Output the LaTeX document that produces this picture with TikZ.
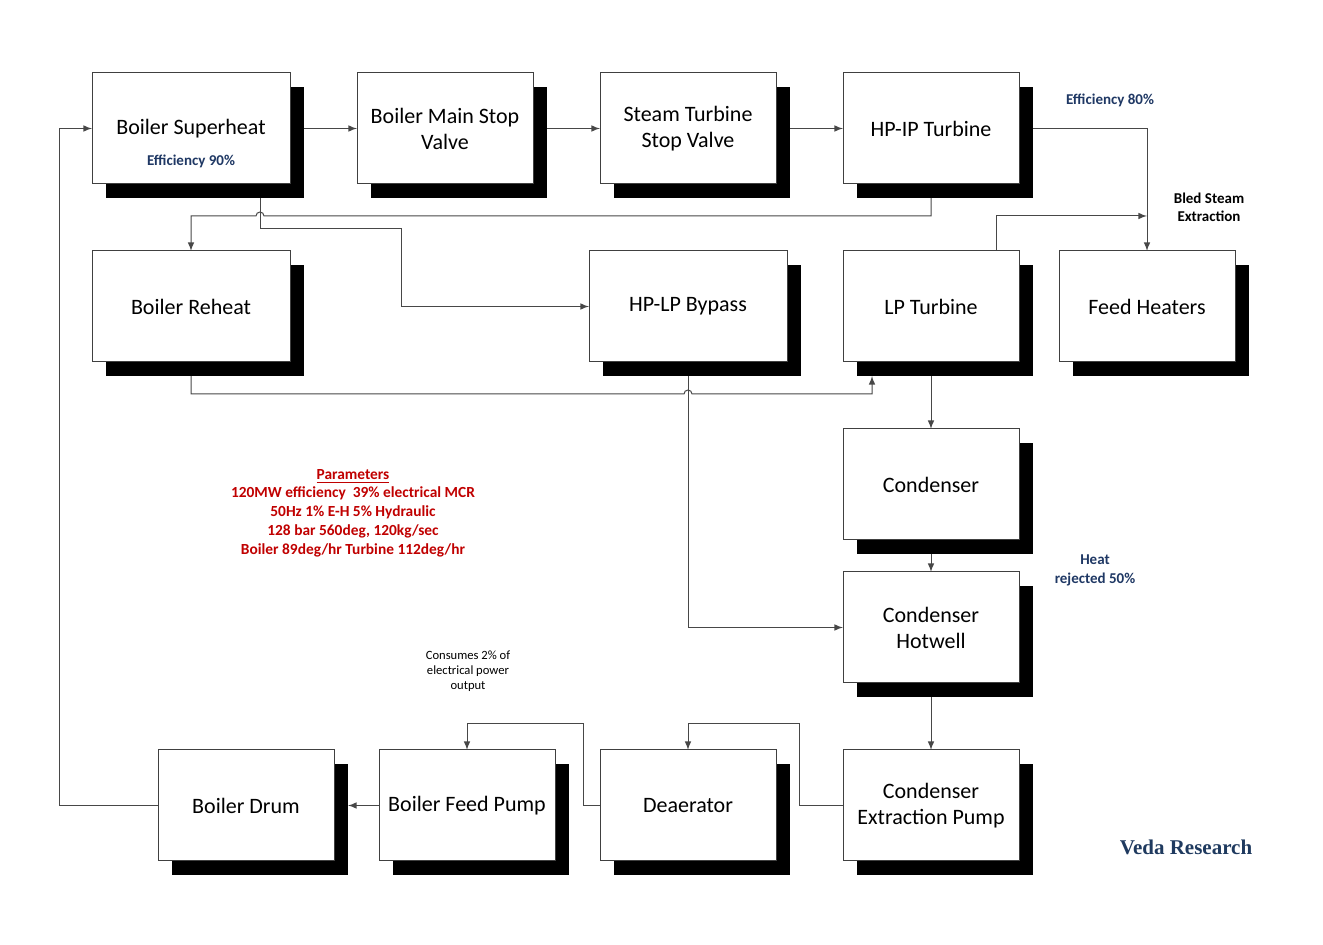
\documentclass[tikz,border=0pt]{standalone}
\usepackage{fontspec}
\setmainfont{Carlito}
\newfontfamily\vedafont{Liberation Serif}
\usepackage{tikz}
\usetikzlibrary{arrows}
\usetikzlibrary{calc}
\usetikzlibrary{shadows}
\usetikzlibrary{positioning}
\definecolor{effblue}{HTML}{1F3864}
\definecolor{paramred}{HTML}{C00000}
\definecolor{vedablue}{HTML}{1F3A5F}
\pgfdeclarelayer{background}
\pgfsetlayers{background,main}

\begin{document}
\begin{tikzpicture}[x=0.5pt,y=-0.5pt,node distance=33.5pt,
    plant/.style={draw=black!75, fill=white, line width=0.5pt, outer sep=0pt, minimum width=88pt, minimum height=55.5pt,
        align=center, font=\fontsize{11}{13}\selectfont,
        drop shadow={shadow xshift=7pt, shadow yshift=-7pt, fill=black, opacity=1}},
    wide/.style={plant, minimum width=99pt},
    flow/.style={draw=black!72, line width=0.5pt, -latex},
    eff/.style={text=effblue, align=center, font=\fontsize{7.5}{9.5}\selectfont\bfseries},
    note/.style={align=center, font=\fontsize{7.5}{9}\selectfont\bfseries},
    param/.style={text=paramred, align=center, font=\fontsize{7.7}{9.35}\selectfont\bfseries}]
        \useasboundingbox (0,0) rectangle (1323,945);
        \node[wide] (bs) at (191,128.5) {Boiler Superheat};
        \node[plant, right=of bs] (msv) {Boiler Main Stop\\Valve};
        \node[plant, right=of msv] (stv) {Steam Turbine\\Stop Valve};
        \node[plant, right=of stv] (hpip) {HP-IP Turbine};
        
        \node[wide, below=of bs] (br) {Boiler Reheat};
        \node[wide, below=of stv] (hplp) {HP-LP Bypass};
        \node[plant, below=of hpip] (lpt) {LP Turbine};
        \node[plant, right=20pt of lpt] (fh) {Feed Heaters};
        
        \node[plant, below=of lpt] (cond) {Condenser};
        \node[plant, below=16pt of cond] (hw) {Condenser\\Hotwell};
        \node[plant, below=of hw] (cep) {Condenser\\Extraction Pump};
        \node[plant, left=of cep] (dea) {Deaerator};
        \node[plant, left=22.5pt of dea] (bfp) {Boiler Feed Pump};
        \node[plant, left=22.5pt of bfp] (drum) {Boiler Drum};
        
        % labels
        \node[eff] (eff90) at ([yshift=-16.5pt]bs.center) {Efficiency 90\%};
        \node[eff] (eff80) at (1110,100) {Efficiency 80\%};
        \node[note] (bledtxt) at (1209,207) {Bled Steam\\Extraction};
        \node[eff] (heat) at (1095,570) {Heat\\rejected 50\%};
        \node[align=center, font=\fontsize{6.3}{7.5}\selectfont] (cons) at (468,671) {Consumes 2\% of\\electrical power\\output};
        \node[param] (par) at (353,513) {\underline{Parameters}\\120MW efficiency~~39\% electrical MCR\\50Hz 1\% E-H 5\% Hydraulic\\128 bar 560deg, 120kg/sec\\Boiler 89deg/hr Turbine 112deg/hr};
        \node[text=vedablue, font=\vedafont\fontsize{10.5}{12}\selectfont\bfseries] (veda) at (1186,847) {Veda Research};
        \coordinate (bled) at (1147,216);
        
        \begin{pgfonlayer}{background}
        \draw[flow] (bs) -- (msv);
        \draw[flow] (msv) -- (stv);
        \draw[flow] (stv) -- (hpip);
        \draw[flow] (hpip.east) -| (fh.north);
        \draw[flow] (hpip.south) |- (264,216) arc (0:-180:4) -| (br.north);
        \draw[flow] (260,0 |- bs.south) |- (401,229) |- (hplp.west);
        \draw[flow] (br.south) |- (684,394) arc (180:360:4) -| ([xshift=14.5pt,yshift=-7pt]lpt.south west);
        \draw[flow] ([xshift=32.5pt]lpt.north) |- (bled);
        \draw[flow] (lpt) -- (cond);
        \draw[flow] (cond) -- (hw);
        \draw[flow] (hw) -- (cep);
        \draw[flow] (hplp.south) |- (hw.west);
        % feed water back to the boiler
        \draw[flow] (cep.west) -| (799,724) -| (dea.north);
        \draw[flow] (dea.west) -| (583,724) -| (bfp.north);
        \draw[flow] (bfp.west) -- ([xshift=7pt]drum.east);
        \draw[flow] (drum.west) -- ++(-99,0) |- (bs.west);
        \end{pgfonlayer}
    \end{tikzpicture}
\end{document}
